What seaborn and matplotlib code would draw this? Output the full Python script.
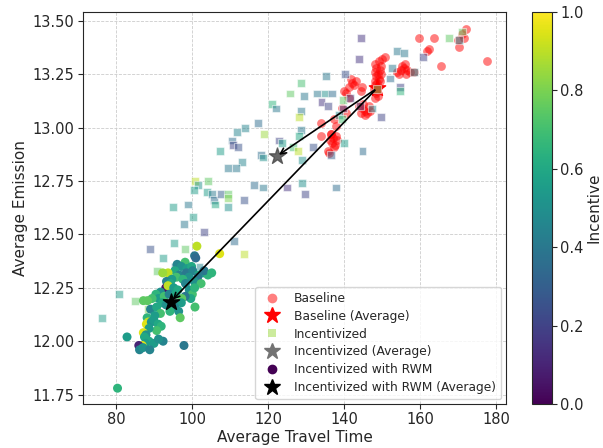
import numpy as np
import pandas as pd
import seaborn as sns
import matplotlib.pyplot as plt
from matplotlib.lines import Line2D
from matplotlib.cm import ScalarMappable
from matplotlib.colors import Normalize

# Baseline runs (travel time, emission)
baseline_x = [148.2, 149.2, 149.9, 150.8, 149.7, 148.5, 149.3, 148.1, 148.9, 149.7, 148.3,
              149.1, 148.0, 148.7, 149.5, 148.2, 149.0, 147.9, 148.7, 148.3, 149.0, 148.1,
              154.0, 155.0, 155.8, 156.6, 154.5, 156.2, 157.4, 158.5, 155.3, 156.0,
              159.8, 163.7, 161.7, 162.4, 165.6, 170.3, 170.9, 172.2, 171.6, 169.9, 177.5,
              143.2, 142.1, 141.3, 140.5, 140.0, 144.8, 144.5, 141.3, 139.5, 140.5, 141.8, 142.6,
              144.0, 144.6, 145.4, 146.1, 144.9, 146.4, 144.4, 145.6, 146.8,
              133.9, 133.9, 137.3, 137.8,
              136.5, 137.1, 137.9, 136.8, 137.6, 136.3, 138.2, 137.2, 136.0, 135.8, 136.6]
baseline_y = [13.30, 13.31, 13.32, 13.33, 13.29, 13.28, 13.27, 13.26, 13.25, 13.25, 13.24,
              13.23, 13.22, 13.21, 13.22, 13.20, 13.19, 13.18, 13.17, 13.16, 13.15, 13.14,
              13.26, 13.27, 13.28, 13.27, 13.25, 13.25, 13.26, 13.26, 13.29, 13.30,
              13.42, 13.42, 13.36, 13.37, 13.29, 13.38, 13.44, 13.46, 13.42, 13.41, 13.31,
              13.22, 13.21, 13.19, 13.16, 13.17, 13.19, 13.17, 13.14, 13.09, 13.07, 13.23, 13.20,
              13.10, 13.09, 13.08, 13.07, 13.11, 13.10, 13.07, 13.06, 13.08,
              13.02, 12.96, 13.04, 13.01,
              12.97, 12.95, 12.96, 12.93, 12.92, 12.94, 12.94, 12.91, 12.88, 12.89, 12.97]

# Incentivized runs
inc_x = [135.2, 128.6, 125.7, 129.4, 132.9, 134.9, 136.8, 134.0, 135.7, 120.9, 122.0, 128.6,
         128.1, 111.7, 113.9, 117.3, 118.9, 128.6, 128.1, 110.4, 110.7, 112.0, 122.8, 123.6,
         126.6, 131.8, 127.8, 107.3, 128.9, 118.1, 118.6, 136.5, 113.1, 109.3, 111.5, 100.7,
         101.5, 104.1, 100.4, 103.8, 105.1, 105.7, 107.6, 109.3, 109.3, 105.9, 109.3, 116.2,
         118.6, 113.6, 124.9, 129.7, 128.9, 137.9, 98.8, 94.9, 100.1,
         144.5, 143.9, 153.9, 155.8, 152.6, 152.1, 158.4, 160.8, 167.7, 171.1, 170.3, 154.7,
         154.7, 140.2, 139.7, 141.5, 144.2, 147.3, 139.7, 138.7, 139.5, 149.7, 139.9, 144.8,
         97.7, 103.0, 110.9, 88.8, 95.1, 98.0, 113.6, 92.2, 90.6, 95.4, 101.9, 80.6, 84.8,
         76.1, 88.3, 96.5, 148.6]
inc_y = [13.24, 13.21, 13.16, 13.15, 13.16, 13.16, 13.16, 13.12, 13.10, 13.11, 13.09, 13.08,
         13.05, 12.98, 13.00, 13.02, 12.97, 12.99, 12.96, 12.94, 12.92, 12.91, 12.94, 12.93,
         12.91, 12.91, 12.89, 12.89, 12.85, 12.87, 12.86, 12.87, 12.84, 12.81, 12.81, 12.75,
         12.73, 12.75, 12.71, 12.70, 12.69, 12.66, 12.69, 12.69, 12.67, 12.64, 12.63, 12.73,
         12.72, 12.66, 12.72, 12.69, 12.74, 12.72, 12.64, 12.63, 12.58,
         13.42, 13.32, 13.36, 13.35, 13.28, 13.23, 13.26, 13.33, 13.42, 13.45, 13.41, 13.19,
         13.17, 13.25, 13.13, 13.14, 13.10, 13.09, 13.09, 13.06, 13.04, 13.05, 12.93, 12.89,
         12.55, 12.51, 12.47, 12.43, 12.46, 12.43, 12.41, 12.39, 12.33, 12.35, 12.35, 12.22, 12.19,
         12.11, 12.15, 12.30, 13.18]
inc_c = [0.40, 0.70, 0.75, 0.40, 0.40, 0.50, 0.35, 0.15, 0.20, 0.65, 0.40, 0.40,
         0.90, 0.45, 0.45, 0.35, 0.85, 0.40, 0.60, 0.35, 0.20, 0.25, 0.20, 0.55,
         0.70, 0.25, 0.90, 0.55, 0.50, 0.35, 0.50, 0.30, 0.45, 0.40, 0.40, 0.90,
         0.50, 0.75, 0.55, 0.55, 0.40, 0.35, 0.30, 0.75, 0.80, 0.60, 0.50, 0.35,
         0.40, 0.25, 0.15, 0.20, 0.50, 0.35, 0.40, 0.55, 0.55,
         0.15, 0.15, 0.40, 0.40, 0.40, 0.35, 0.45, 0.20, 0.75, 0.75, 0.45, 0.20,
         0.65, 0.25, 0.75, 0.20, 0.20, 0.45, 0.20, 0.45, 0.70, 0.20, 0.55, 0.35,
         0.40, 0.20, 0.35, 0.25, 0.55, 0.75, 0.90, 0.55, 0.75, 0.40, 0.45, 0.55, 0.75,
         0.55, 0.80, 0.40, 0.75]

# Incentivized with RWM runs
rwm_x = [101.2, 107.2, 100.6, 100.9, 98.1, 96.0, 97.1, 98.6, 99.8, 95.4, 93.6, 92.2, 96.6,
         98.4, 100.1, 101.6, 102.8, 104.1, 101.4, 99.1, 95.8, 94.6, 93.2, 97.5, 100.5, 102.3,
         94.2, 98.2, 103.1, 105.1,
         93.0, 93.6, 95.1, 96.2, 99.2, 100.0, 100.6, 99.6, 98.1, 97.2, 100.7, 91.6, 90.4,
         91.1, 92.6, 93.9, 95.6, 97.1, 92.1, 89.4, 88.2, 87.1, 89.0, 90.6, 93.1, 95.4, 96.4,
         94.1, 91.6, 90.1, 96.8, 88.1,
         88.4, 87.9, 89.2, 89.8, 91.0, 91.8, 90.6, 88.6, 87.1, 87.8, 87.4, 82.8, 88.6, 89.9,
         87.6, 86.8, 85.9, 86.1, 87.0, 88.8, 92.3, 91.1, 97.8, 80.3]
rwm_y = [12.445, 12.41, 12.40, 12.39, 12.37, 12.36, 12.35, 12.34, 12.35, 12.33, 12.32, 12.32,
         12.31, 12.32, 12.33, 12.31, 12.32, 12.31, 12.30, 12.30, 12.30, 12.29, 12.28, 12.29,
         12.28, 12.27, 12.27, 12.27, 12.33, 12.32,
         12.25, 12.26, 12.25, 12.24, 12.24, 12.22, 12.25, 12.20, 12.21, 12.20, 12.16, 12.23,
         12.22, 12.20, 12.21, 12.22, 12.22, 12.18, 12.18, 12.20, 12.19, 12.19, 12.15, 12.16,
         12.17, 12.16, 12.14, 12.14, 12.13, 12.12, 12.11, 12.11,
         12.09, 12.08, 12.09, 12.10, 12.08, 12.07, 12.05, 12.06, 12.04, 12.03, 12.02, 12.02,
         12.00, 11.99, 11.99, 11.98, 11.98, 11.96, 11.97, 11.96, 12.00, 12.01, 11.98, 11.78]
rwm_c = [0.90, 0.95, 0.40, 0.35, 0.70, 0.45, 0.50, 0.55, 0.60, 0.60, 0.90, 0.85, 0.45,
         0.40, 0.45, 0.60, 0.50, 0.65, 0.40, 0.50, 0.70, 0.55, 0.45, 0.65, 0.50, 0.70,
         0.60, 0.45, 0.40, 0.65,
         0.05, 0.90, 0.55, 0.60, 0.50, 0.70, 0.65, 0.60, 0.40, 0.75, 0.70, 0.50, 0.65,
         0.55, 0.70, 0.45, 0.60, 0.55, 0.60, 0.70, 0.75, 0.75, 0.45, 0.60, 0.50, 0.45, 0.50,
         0.65, 0.70, 0.55, 0.75, 0.65,
         0.90, 0.95, 0.50, 0.55, 0.60, 0.65, 0.70, 0.55, 0.95, 0.50, 0.60, 0.55, 0.60, 0.55,
         0.55, 0.95, 0.10, 0.45, 0.50, 0.45, 0.45, 0.50, 0.40, 0.65]

# averages
baseline_avg = [148.6, 13.184]
inc_avg = [122.2, 12.866]
rwm_avg = [94.3, 12.185]

df_base = pd.DataFrame({'time': baseline_x, 'emission': baseline_y})
df_inc = pd.DataFrame({'time': inc_x, 'emission': inc_y, 'incentive': inc_c})
df_rwm = pd.DataFrame({'time': rwm_x, 'emission': rwm_y, 'incentive': rwm_c})

sns.set_style('ticks')
plt.rcParams['font.family'] = ['DejaVu Sans']

fig = plt.figure(figsize=(6.03, 4.48), dpi=100)
ax = fig.add_axes([0.1376, 0.0982, 0.7015, 0.8757])
cax = fig.add_axes([0.8823, 0.0982, 0.0332, 0.8757])

sns.scatterplot(data=df_base, x='time', y='emission', color='red', alpha=0.5,
                s=40, linewidth=0, ax=ax, zorder=2)
ax.scatter(*baseline_avg, marker='*', color='red', s=150, zorder=3)
sns.scatterplot(data=df_inc, x='time', y='emission', hue='incentive', palette='viridis',
                hue_norm=(0, 1), marker='s', alpha=0.5, s=32, edgecolor='white',
                linewidth=0.8, legend=False, ax=ax, zorder=4)
ax.scatter(*inc_avg, marker='*', color='0.3', alpha=0.85, s=150, zorder=5)
sns.scatterplot(data=df_rwm, x='time', y='emission', hue='incentive', palette='viridis',
                hue_norm=(0, 1), marker='o', s=42, linewidth=0, legend=False, ax=ax, zorder=6)
ax.scatter(*rwm_avg, marker='*', color='black', s=150, zorder=7)

for target in (inc_avg, rwm_avg):
    ax.annotate('', xy=target, xytext=baseline_avg,
                arrowprops=dict(arrowstyle='->', color='black', lw=1.2, mutation_scale=10),
                zorder=8)

ax.set_xlim(71.2, 182.6)
ax.set_ylim(11.706, 13.543)
ax.set_xticks([80, 100, 120, 140, 160, 180])
ax.set_yticks([11.75, 12.00, 12.25, 12.50, 12.75, 13.00, 13.25, 13.50])
ax.yaxis.set_major_formatter(plt.FormatStrFormatter('%.2f'))
ax.grid(True, linestyle='--', color='0.8', linewidth=0.6)
ax.tick_params(labelsize=10.5, pad=2.5)
ax.set_xlabel('Average Travel Time', fontsize=11, labelpad=2)
ax.set_ylabel('Average Emission', fontsize=11, labelpad=3)

cmap = plt.get_cmap('viridis')
handles = [
    Line2D([], [], linestyle='none', marker='o', color='red', alpha=0.5, markersize=7, markeredgewidth=0),
    Line2D([], [], linestyle='none', marker='*', color='red', markersize=12),
    Line2D([], [], linestyle='none', marker='s', color=cmap(0.85), alpha=0.5, markersize=6, markeredgewidth=0),
    Line2D([], [], linestyle='none', marker='*', color='0.45', markersize=12),
    Line2D([], [], linestyle='none', marker='o', color=cmap(0.0), markersize=6),
    Line2D([], [], linestyle='none', marker='*', color='black', markersize=12),
]
labels = ['Baseline', 'Baseline (Average)', 'Incentivized', 'Incentivized (Average)',
          'Incentivized with RWM', 'Incentivized with RWM (Average)']
ax.legend(handles, labels, loc='lower right', fontsize=8.8, framealpha=0.8,
          labelspacing=0.4, borderaxespad=0.4)

sm = ScalarMappable(norm=Normalize(0, 1), cmap='viridis')
cb = fig.colorbar(sm, cax=cax)
cb.set_label('Incentive', fontsize=11, labelpad=2)
cb.ax.tick_params(labelsize=10.5, pad=2.5)

fig.savefig('out.png', dpi=100)
